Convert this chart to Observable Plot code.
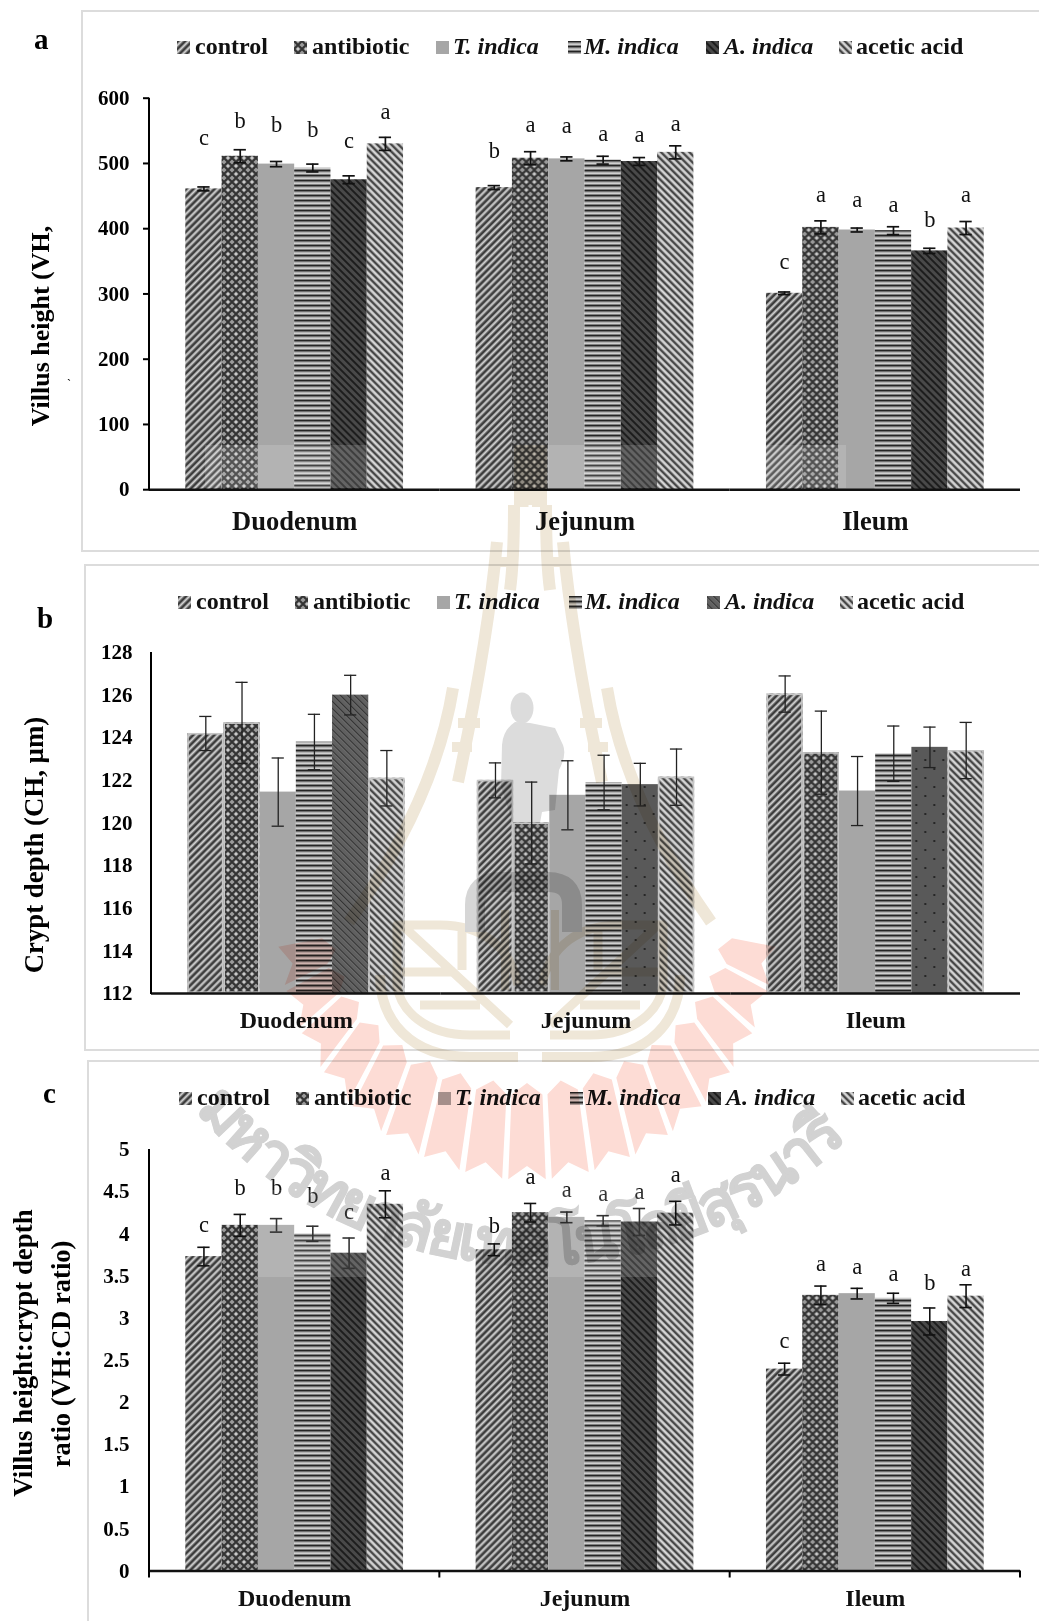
<!DOCTYPE html>
<html>
<head>
<meta charset="utf-8">
<script src="https://cdn.jsdelivr.net/npm/d3@7"></script>
<script src="https://cdn.jsdelivr.net/npm/@observablehq/plot@0.6"></script>
<style>
html,body{margin:0;padding:0;background:#fff;}
#page{position:relative;width:1039px;height:1621px;overflow:hidden;font-family:"Liberation Serif",serif;color:#000;}
.frame{position:absolute;border:2px solid #dcdcdc;box-sizing:border-box;}
.plot{position:absolute;left:0;}
.legend-item{position:absolute;font-weight:bold;font-size:24px;line-height:26px;white-space:nowrap;color:#111;}
.swatch{position:absolute;}
.tag{position:absolute;font-weight:bold;font-size:29px;line-height:30px;}
.ytitle{position:absolute;font-weight:bold;white-space:nowrap;transform:translate(-50%,-50%) rotate(-90deg);}
#wm{position:absolute;left:0;top:0;mix-blend-mode:multiply;pointer-events:none;}
#veil{position:absolute;left:0;top:0;pointer-events:none;}
</style>
</head>
<body>
<div id="page"></div>
<script>
const groups = ["Duodenum", "Jejunum", "Ileum"];
const treatments = ["control", "antibiotic", "T. indica", "M. indica", "A. indica", "acetic acid"];

// a: villus height
const vhValues = [461, 511, 499, 493, 475, 530,  463, 508, 507, 505, 503, 517,  301, 402, 398, 397, 366, 401];
const vhErrors = [3, 10, 4, 6, 6, 10,  3, 10, 3, 6, 6, 10,  2, 10, 3, 6, 4, 10];
const vhLetters = ["c","b","b","b","c","a",  "b","a","a","a","a","a",  "c","a","a","a","b","a"];
const vhLetterAt = [539, 566, 559, 551, 534, 579,  520, 559, 558, 545, 544, 561,  349, 452, 445, 437, 414, 452];
const vhTicks = [0, 100, 200, 300, 400, 500, 600];

// b: crypt depth
const cdValues = [124.2, 124.7, 121.45, 123.8, 126.0, 122.1,  122.0, 120.0, 121.3, 121.9, 121.8, 122.15,  126.05, 123.3, 121.5, 123.25, 123.55, 123.4];
const cdErrors = [0.8, 1.9, 1.6, 1.3, 0.93, 1.3,  0.82, 1.92, 1.62, 1.28, 1.0, 1.32,  0.85, 1.95, 1.62, 1.3, 0.95, 1.32];
const cdTicks = [112, 114, 116, 118, 120, 122, 124, 126, 128];

// c: VH:CD ratio
const ratioValues = [3.73, 4.1, 4.1, 4.0, 3.77, 4.35,  3.81, 4.25, 4.195, 4.155, 4.14, 4.245,  2.395, 3.27, 3.29, 3.235, 2.96, 3.26];
const ratioErrors = [0.11, 0.13, 0.08, 0.09, 0.18, 0.16,  0.07, 0.11, 0.063, 0.06, 0.16, 0.14,  0.07, 0.11, 0.063, 0.06, 0.16, 0.135];
const ratioLetters = ["c","b","b","b","c","a",  "b","a","a","a","a","a",  "c","a","a","a","b","a"];
const ratioLetterAt = [4.11, 4.545, 4.545, 4.45, 4.26, 4.72,  4.1, 4.68, 4.52, 4.48, 4.5, 4.7,  2.73, 3.65, 3.61, 3.52, 3.42, 3.58];
const ratioTicks = [0, 0.5, 1, 1.5, 2, 2.5, 3, 3.5, 4, 4.5, 5];
const ratioTickLabels = ["0", "0.5", "1", "1.5", "2", "2.5", "3", "3.5", "4", "4.5", "5"];

const SERIF = "Liberation Serif";
const page = document.getElementById("page");

// ---- hatch patterns -----
const defs = d3.select(page).append("svg").attr("width", 0).attr("height", 0).style("position", "absolute").append("defs");
function stripes(id, period, angle, bands) {
  const p = defs.append("pattern").attr("id", id).attr("patternUnits", "userSpaceOnUse")
    .attr("width", period).attr("height", period).attr("patternTransform", `rotate(${angle})`);
  let y = 0;
  for (const [h, c] of bands) { p.append("rect").attr("x", 0).attr("y", y).attr("width", period).attr("height", h).attr("fill", c); y += h; }
}
stripes("p-control", 5, -45, [[2.1, "#3d3d3d"], [0.7, "#7d7d7d"], [1.2, "#d0d0d0"], [1, "#7d7d7d"]]);
stripes("p-mindica", 5, 0, [[1.7, "#242424"], [1, "#7f7f7f"], [1.3, "#cfcfcf"], [1, "#7f7f7f"]]);
stripes("p-aindica", 5, 45, [[2, "#1d1d1d"], [3, "#494949"]]);
stripes("p-aindica-b", 5, 45, [[1.7, "#333333"], [3.3, "#606060"]]);
stripes("p-acetic", 5, 45, [[2, "#474747"], [0.7, "#8a8a8a"], [1.6, "#dedede"], [0.7, "#8a8a8a"]]);
stripes("p-tindica", 5, 0, [[5, "#a6a6a6"]]);
const lat = defs.append("pattern").attr("id", "p-antibiotic").attr("patternUnits", "userSpaceOnUse").attr("width", 8).attr("height", 8);
lat.append("rect").attr("width", 8).attr("height", 8).attr("fill", "#9b9b9b");
lat.append("path").attr("d", "M0 0L8 8M8 0L0 8").attr("stroke", "#333").attr("stroke-width", 2).attr("fill", "none");
lat.append("circle").attr("cx", 4).attr("cy", 0).attr("r", 1.1).attr("fill", "#d6d6d6");
lat.append("circle").attr("cx", 4).attr("cy", 8).attr("r", 1.1).attr("fill", "#d6d6d6");
const dot = defs.append("pattern").attr("id", "p-aindica-dot").attr("patternUnits", "userSpaceOnUse").attr("width", 18).attr("height", 18);
dot.append("rect").attr("width", 18).attr("height", 18).attr("fill", "#595959");
dot.append("circle").attr("cx", 4).attr("cy", 4).attr("r", 1.1).attr("fill", "#1a1a1a");
dot.append("circle").attr("cx", 13).attr("cy", 13).attr("r", 1.1).attr("fill", "#1a1a1a");

const patternKeys = ["control", "antibiotic", "T. indica", "M. indica", "A. indica", "acetic acid", "A. indica light", "A. indica dotted"];
const patternUrls = ["p-control", "p-antibiotic", "p-tindica", "p-mindica", "p-aindica", "p-acetic", "p-aindica-b", "p-aindica-dot"].map(d => `url(#${d})`);

function rows(values, errors, letters, letterAt, patternOf) {
  return values.map((v, i) => {
    const group = groups[Math.floor(i / 6)], treatment = treatments[i % 6];
    return {group, treatment, v, lo: v - errors[i], hi: v + errors[i], letter: letters ? letters[i] : null,
      at: letterAt ? letterAt[i] : null, pattern: patternOf ? patternOf(group, treatment) : treatment};
  });
}

function panel({top, height, marginTop, marginBottom, marginLeft, data, domain, ticks, tickFormat, tickSize, tickPadding,
                catSize, catPad, errWidth, errColor, capInset, xTicks, outlined}) {
  const base = domain[0];
  const marks = [
    Plot.barY(data, {fx: "group", x: "treatment", y1: () => base, y2: "v", fill: "pattern"}),
  ];
  if (outlined) marks.push(Plot.barY(data.filter(d => outlined.includes(d.treatment)), {fx: "group", x: "treatment", y1: () => base, y2: "v",
    fill: "none", stroke: "#c6c6c6", strokeWidth: 1.6, inset: 0.8}));
  marks.push(
    Plot.ruleX(data, {fx: "group", x: "treatment", y1: "lo", y2: "hi", stroke: errColor, strokeWidth: errWidth}),
    Plot.tickY(data, {fx: "group", x: "treatment", y: "lo", stroke: errColor, strokeWidth: errWidth, insetLeft: capInset, insetRight: capInset}),
    Plot.tickY(data, {fx: "group", x: "treatment", y: "hi", stroke: errColor, strokeWidth: errWidth, insetLeft: capInset, insetRight: capInset}),
    Plot.ruleY([base], {stroke: "#111", strokeWidth: 2.4}),
    Plot.axisY({anchor: "left", ticks, tickFormat, tickSize, tickPadding, label: null, stroke: "#000", strokeWidth: 2,
      fontSize: 21, fontFamily: SERIF, fontWeight: "bold", fill: "#000"}),
    Plot.axisFx({anchor: "bottom", tickSize: 0, tickPadding: catPad, label: null,
      fontSize: catSize, fontFamily: SERIF, fontWeight: "bold", fill: "#111"})
  );
  if (data[0].letter) marks.push(Plot.text(data, {fx: "group", x: "treatment", y: "at", text: "letter", fontSize: 22.5,
    fontFamily: SERIF, fill: "#111", lineAnchor: "middle"}));
  const svg = Plot.plot({
    width: 1039, height, marginTop, marginBottom, marginLeft, marginRight: 19,
    style: {background: "transparent", overflow: "visible"},
    fx: {domain: groups, padding: 0, round: false},
    x: {domain: treatments, axis: null, paddingInner: 0, paddingOuter: 1, round: false},
    y: {domain},
    color: {type: "ordinal", domain: patternKeys, range: patternUrls},
    marks
  });
  svg.setAttribute("class", "plot");
  svg.style.top = top + "px";
  // y axis line, and the x ticks at group boundaries of panel c, from the plot's own scales
  const fx = svg.scale("fx"), y = svg.scale("y");
  const x0 = fx.apply(groups[0]);
  const s = d3.select(svg);
  s.append("line").attr("x1", x0).attr("x2", x0).attr("y1", y.apply(domain[1])).attr("y2", y.apply(base) + 1)
    .attr("stroke", "#000").attr("stroke-width", 2);
  if (xTicks) {
    const edges = [...groups.map(g => fx.apply(g)), fx.apply(groups[2]) + fx.bandwidth];
    for (const xx of edges) {
      s.append("line").attr("x1", xx).attr("x2", xx).attr("y1", y.apply(base)).attr("y2", y.apply(base) + 7).attr("stroke", "#000").attr("stroke-width", 2);
    }
  }
  page.appendChild(svg);
}

// ---- frames -----
function frame(l, t, w, h) {
  const d = document.createElement("div"); d.className = "frame";
  Object.assign(d.style, {left: l + "px", top: t + "px", width: w + "px", height: h + "px"});
  page.appendChild(d);
}
frame(81, 10, 1000, 542);
frame(84, 564, 1000, 487);
frame(87, 1060, 1000, 600);

// ---- panels -----
panel({top: 70, height: 470, marginTop: 27.7, marginBottom: 50.8, marginLeft: 149,
  data: rows(vhValues, vhErrors, vhLetters, vhLetterAt), domain: [0, 600], ticks: vhTicks, tickSize: 6, tickPadding: 14,
  catSize: 26.5, catPad: 21, errWidth: 1.7, errColor: "#111", capInset: 12});
panel({top: 630, height: 410, marginTop: 22, marginBottom: 47, marginLeft: 151,
  data: rows(cdValues, cdErrors, null, null, (g, t) => t !== "A. indica" ? t : (g === "Duodenum" ? "A. indica light" : "A. indica dotted")),
  domain: [112, 128], ticks: cdTicks, tickSize: 0, tickPadding: 19,
  catSize: 24, catPad: 17, errWidth: 1.3, errColor: "#222", capInset: 12, outlined: ["control", "antibiotic", "acetic acid"]});
panel({top: 1130, height: 480, marginTop: 19, marginBottom: 39.5, marginLeft: 149,
  data: rows(ratioValues, ratioErrors, ratioLetters, ratioLetterAt), domain: [0, 5], ticks: ratioTicks,
  tickFormat: (d, i) => ratioTickLabels[i], tickSize: 0, tickPadding: 20,
  catSize: 24, catPad: 18, errWidth: 1.6, errColor: "#111", capInset: 12, xTicks: true});

// ---- pale tile bands of the scanned picture -----
const veil = d3.select(page).append("svg").attr("id", "veil").attr("width", 1039).attr("height", 1621);
for (const [x, y, w, h] of [[205, 445, 162, 43], [547, 445, 110, 43], [766, 445, 80, 43], [258, 1190, 109, 87], [547, 1190, 110, 87]]) {
  veil.append("rect").attr("x", x).attr("y", y).attr("width", w).attr("height", h).attr("fill", "#fff").attr("fill-opacity", 0.15);
}

// ---- legends -----
const legendItalic = [false, false, true, true, true, false];
const swatchLefts = [177, 294, 436, 568, 706, 839];
const labelLefts = [195, 312, 453, 584, 724, 856];
function legend(top, shift, fills) {
  treatments.forEach((t, i) => {
    const sw = d3.select(page).append("svg").attr("class", "swatch").attr("width", 13).attr("height", 13)
      .style("left", (swatchLefts[i] + shift) + "px").style("top", (top - 6) + "px");
    sw.append("rect").attr("width", 13).attr("height", 13).attr("fill", fills[i]);
    const el = document.createElement("div"); el.className = "legend-item"; el.textContent = t;
    if (legendItalic[i]) el.style.fontStyle = "italic";
    el.style.left = (labelLefts[i] + shift) + "px"; el.style.top = (top - 14) + "px";
    page.appendChild(el);
  });
}
legend(47, 0, patternUrls.slice(0, 6));
legend(602, 1, ["p-control", "p-antibiotic", "p-tindica", "p-mindica", "p-aindica-b", "p-acetic"].map(d => `url(#${d})`));
legend(1098, 2, patternUrls.slice(0, 6));

// ---- titles -----
function tag(text, l, t) { const d = document.createElement("div"); d.className = "tag"; d.textContent = text;
  d.style.left = l + "px"; d.style.top = t + "px"; page.appendChild(d); }
tag("a", 34, 24); tag("b", 37, 603); tag("c", 43, 1078);
function ytitle(text, cx, cy, size) { const d = document.createElement("div"); d.className = "ytitle"; d.textContent = text;
  d.style.left = cx + "px"; d.style.top = cy + "px"; d.style.fontSize = size + "px"; page.appendChild(d); }
ytitle("Villus height (VH,", 41, 326, 26);
ytitle("Crypt depth (CH, \u00b5m)", 34, 845, 26.8);
ytitle("Villus height:crypt depth", 23, 1353, 26.9);
ytitle("ratio (VH:CD ratio)", 61, 1354, 26.5);
const tickMark = document.createElement("div"); tickMark.textContent = "`";
Object.assign(tickMark.style, {position: "absolute", left: "67px", top: "378px", fontSize: "12px", lineHeight: "12px"});
page.appendChild(tickMark);

// ---- background emblem overlay -----
const wm = d3.select(page).append("svg").attr("id", "wm").attr("width", 1039).attr("height", 1621);
const cx = 527, cy = 921, aStart = 5, aStep = 10, nFans = 17;
const pt = (a, rx, ry) => [cx + rx * Math.cos(a * Math.PI / 180), cy + ry * Math.sin(a * Math.PI / 180)];
for (let i = 0; i < nFans; i++) {
  const a0 = aStart + i * aStep + 0.7, a1 = a0 + aStep - 1.4, am = (a0 + a1) / 2;
  const pts = [pt(a0, 206, 174), pt(am, 194, 162), pt(a1, 206, 174), pt(a1, 250, 259), pt(am, 238, 245), pt(a0, 250, 259)];
  wm.append("polygon").attr("points", pts.map(p => p.join(",")).join(" ")).attr("fill", "#fddcd5");
}
const mirror = g => g.attr("transform", "translate(1060,0) scale(-1,1)");
function half(g) {
  g.attr("fill", "none").attr("stroke", "#efe7d8").attr("stroke-width", 12).attr("stroke-linejoin", "round");
  g.append("path").attr("d", "M 497 542 Q 488 640 458 782");                 // long inner stroke
  g.append("path").attr("d", "M 453 688 Q 435 800 349 922");                  // long outer stroke
  g.append("path").attr("d", "M 514 505 Q 514 560 510 590");                  // top prong
  g.append("path").attr("d", "M 500 562 H 516 M 458 723 H 480 M 452 747 H 472").attr("stroke-width", 10);
  g.append("path").attr("d", "M 518 1057 H 470 C 410 1057 380 1020 380 975").attr("stroke-width", 10);
  g.append("path").attr("d", "M 510 1035 H 470 C 425 1035 400 1010 397 985 V 925 H 440 C 480 925 510 945 518 985 M 402 925 L 510 1025 M 462 925 V 970 M 402 972 H 455 M 420 1005 H 480").attr("stroke-width", 9);
  g.append("path").attr("d", "M 505 910 V 990").attr("stroke-width", 8);
}
half(wm.append("g"));
half(mirror(wm.append("g")));
wm.append("rect").attr("x", 514).attr("y", 445).attr("width", 33).attr("height", 62).attr("fill", "#efe7d8");
wm.append("rect").attr("x", 528.5).attr("y", 505).attr("width", 3.5).attr("height", 3).attr("fill", "#fff");
const grey = wm.append("g").attr("fill", "#dcdcdc");
grey.append("ellipse").attr("cx", 522).attr("cy", 708).attr("rx", 11.5).attr("ry", 15.5);
grey.append("path").attr("d", "M 515 722 Q 503 730 502 745 L 501 787 L 513 823 L 540 823 L 542 812 L 555 810 L 559 770 Q 567 755 563 745 L 555 728 L 530 723 Z");
grey.append("path").attr("d", "M 475 932 V 905 Q 475 882 500 882 H 548 Q 572 882 572 905 V 932").attr("fill", "none").attr("stroke", "#d6d6d6").attr("stroke-width", 20);
defs.append("path").attr("id", "wm-arc").attr("d", "M 195 1110 A 449 449 0 0 0 855 1130");
wm.append("text").attr("font-family", "Noto Sans, DejaVu Sans, sans-serif").attr("font-weight", "bold").attr("font-size", 62)
  .attr("fill", "#d2d2d2").attr("stroke", "#d2d2d2").attr("stroke-width", 1)
  .append("textPath").attr("href", "#wm-arc").attr("textLength", 730).text("\u0e21\u0e2b\u0e32\u0e27\u0e34\u0e17\u0e22\u0e32\u0e25\u0e31\u0e22\u0e40\u0e17\u0e04\u0e42\u0e19\u0e42\u0e25\u0e22\u0e35\u0e2a\u0e38\u0e23\u0e19\u0e32\u0e23\u0e35");
</script>
</body>
</html>
